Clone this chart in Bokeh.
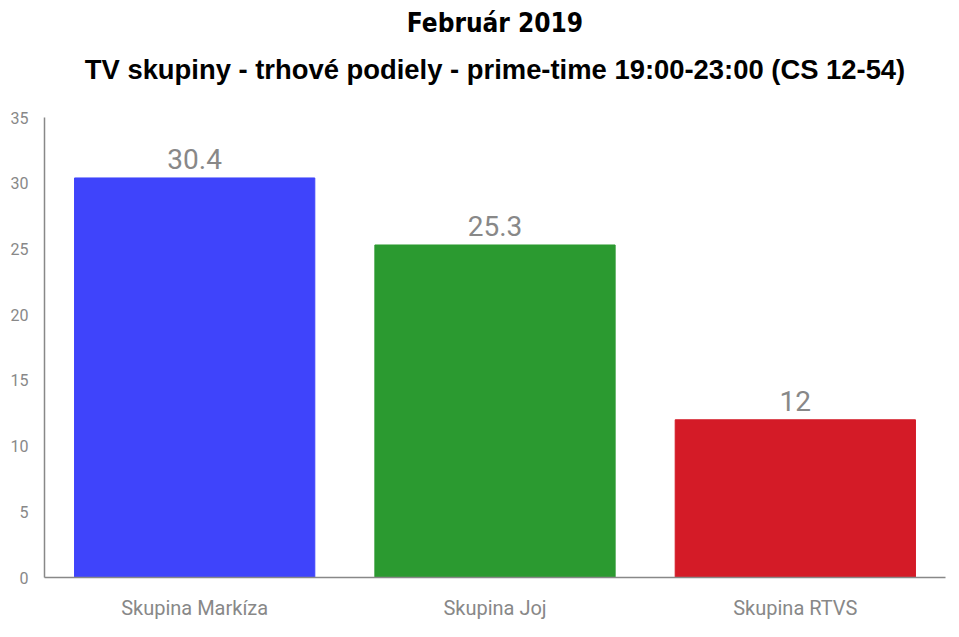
from bokeh.plotting import figure
from bokeh.models import ColumnDataSource, LabelSet, Title, Range1d, FactorRange, FixedTicker
from bokeh.core.properties import value
from bokeh.embed import file_html
from bokeh.resources import INLINE

categories = ["Skupina Markíza", "Skupina Joj", "Skupina RTVS"]
values = [30.4, 25.3, 12]
value_labels = ["30.4", "25.3", "12"]
colors = ["#3f44fb", "#2b9a30", "#d41b27"]
y_ticks = [0, 5, 10, 15, 20, 25, 30, 35]

NARROW = "'DejaVu Sans Condensed', Roboto"

source = ColumnDataSource(dict(cat=categories, val=values, lab=value_labels, col=colors))

p = figure(width=951, height=629, x_range=FactorRange(*categories), y_range=Range1d(0, 35),
           output_backend="svg", toolbar_location=None,
           min_border_left=44, min_border_right=6, min_border_top=117, min_border_bottom=52)

p.title.text = "Február 2019"
p.title.text_font = NARROW
p.title.text_font_size = "26px"
p.title.text_font_style = "bold"
p.title.align = "center"
p.title.text_color = "#000000"
p.title.standoff = -38
p.add_layout(Title(text="TV skupiny - trhové podiely - prime-time 19:00-23:00 (CS 12-54)",
                   text_font="Liberation Sans", text_font_size="27.4px",
                   text_font_style="bold", align="center",
                   text_color="#000000", standoff=66), "above")

p.vbar(x="cat", top="val", width=0.8, source=source, fill_color="col", line_color="col")

labels = LabelSet(x="cat", y="val", text="lab", source=source, text_align="center",
                  text_baseline="bottom", y_offset=9, text_font=value("Roboto"),
                  text_font_size=value("28px"), text_color=value("#888888"))
p.add_layout(labels)

p.xgrid.visible = False
p.ygrid.visible = False
p.outline_line_color = None

p.yaxis.ticker = FixedTicker(ticks=y_ticks)
for ax in (p.xaxis[0], p.yaxis[0]):
    ax.major_tick_line_color = None
    ax.minor_tick_line_color = None
    ax.axis_line_color = "#888888"
    ax.axis_line_width = 1.5
    ax.major_label_text_color = "#888888"
    ax.major_label_text_font = "Roboto"
p.yaxis.major_label_text_font_size = "16px"
p.yaxis.major_label_standoff = 10
p.xaxis.major_label_text_font_size = "20px"
p.xaxis.major_label_standoff = 12

open("out.html", "w").write(file_html(p, INLINE))
